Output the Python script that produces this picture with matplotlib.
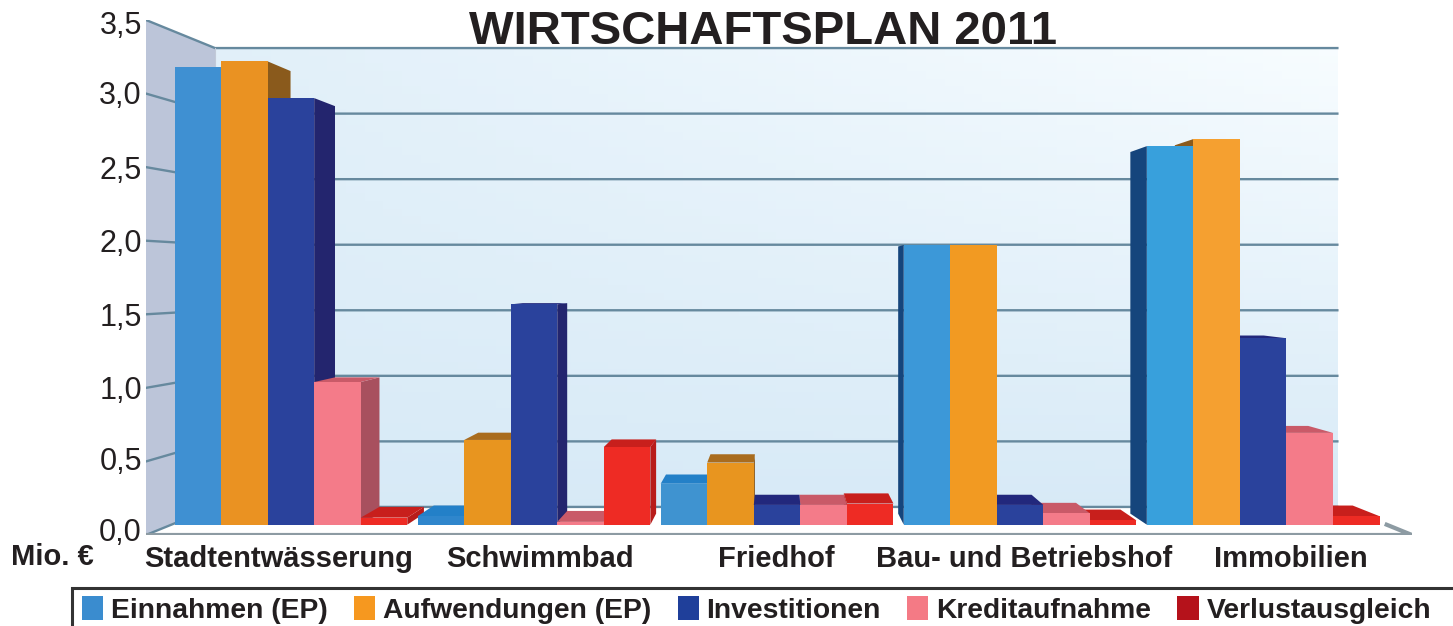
import numpy as np
import matplotlib
matplotlib.use('Agg')
import matplotlib.pyplot as plt
from matplotlib.patches import Patch, Rectangle

plt.rcParams['font.family'] = ['Liberation Sans', 'DejaVu Sans']

categories = ['Stadtentwässerung', 'Schwimmbad', 'Friedhof', 'Bau- und Betriebshof', 'Immobilien']
series = ['Einnahmen (EP)', 'Aufwendungen (EP)', 'Investitionen', 'Kreditaufnahme', 'Verlustausgleich']
einnahmen = [3.24, 0.06, 0.29, 1.98, 2.68]
aufwendungen = [3.28, 0.60, 0.44, 1.98, 2.73]
investitionen = [3.02, 1.56, 0.14, 0.14, 1.32]
kredit = [1.01, 0.02, 0.14, 0.08, 0.65]
verlust = [0.05, 0.55, 0.15, 0.03, 0.06]
grid_vals = [0, 0.5, 1, 1.5, 2, 2.5, 3, 3.5]
ytick_pos = [0.035, 0.52, 1.0, 1.5, 2.0, 2.5, 3.01, 3.48]
yticklabels = ['0,0', '0,5', '1,0', '1,5', '2,0', '2,5', '3,0', '3,5']
label_x = [0.025, 1.056, 1.99, 2.97, 4.02]

values = [einnahmen, aufwendungen, investitionen, kredit, verlust]
front_cols = ['#3f90d2', '#ec9422', '#2a429c', '#f47b89', '#ee2b24']
top_cols = ['#2380c8', '#a96c1e', '#22287c', '#c95a68', '#c81f1c']
side_cols = ['#15457c', '#8a5a1c', '#23256e', '#a8505e', '#b81c1a']
legend_cols = ['#3a8ccf', '#f6981f', '#1f3f9a', '#f47a85', '#b5121b']
# the print is a bit lighter toward the right
einn_front = ['#3f90d2', '#2f86cc', '#3f93d0', '#3c98d8', '#38a0dc']
aufw_front = ['#ea9222', '#e8951f', '#e8951f', '#f29a22', '#f5a030']

# depth of the planes, 1 = front edge of the floor
WALL = 0.891
FRONT = 0.96
BACK = 0.917
BAR_W = 0.1915
BAR_SHIFT = -0.008
WALL_END = 4.475
VP_X, VP_Y = 2.0, 1.75


def proj(x, v, s):
    return VP_X + (x - VP_X) * s, VP_Y + (v - VP_Y) * s


W, H = 1453, 626
fig = plt.figure(figsize=(W / 100, H / 100), dpi=100)
ax = fig.add_axes([146 / W, 1 - 535 / H, (1412 - 146) / W, 515 / H])
ax.patch.set_alpha(0)
for sp in ax.spines.values():
    sp.set_visible(False)

# back wall
xl, y0 = proj(-0.5, 0, WALL)
xr, y1 = proj(WALL_END, 3.5, WALL)
gx, gy = np.meshgrid(np.linspace(0, 1, 60), np.linspace(0, 1, 60))
t = np.clip(0.2 + 0.8 * gy * (0.3 + 0.7 * gx), 0, 1)
low = np.array([0.815, 0.90, 0.96])
high = np.array([0.97, 0.99, 1.0])
img = low[None, None, :] + (high - low)[None, None, :] * t[:, :, None]
ax.imshow(img, extent=[xl, xr, y0, y1], origin='lower', aspect='auto', zorder=0)

# left wall and floor
lw = [proj(-0.5, 0, 1), proj(-0.5, 3.5, 1), proj(-0.5, 3.5, WALL), proj(-0.5, 0, WALL)]
ax.fill(*zip(*lw), color='#bcc5d9', lw=0, zorder=0.2)
fl = [proj(-0.5, 0, 1), proj(4.5, 0, 1), proj(4.5, 0, WALL), proj(-0.5, 0, WALL)]
ax.fill(*zip(*fl), color='white', lw=0, zorder=0.3)

# grid lines, round the left wall and along the back
for v in grid_vals:
    px, py = zip(proj(-0.5, v, 1), proj(-0.5, v, WALL), proj(WALL_END, v, WALL))
    ax.plot(px, py, color='#66899e', lw=1.7, zorder=0.5, solid_joinstyle='miter')
px, py = zip(proj(-0.5, 3.5, WALL), proj(-0.5, 0, WALL))
ax.plot(px, py, color='#c2cad8', lw=0.8, zorder=0.5)
px, py = zip(proj(-0.5, 0, 1), proj(4.5, 0, 1), proj(4.5, 0, FRONT))
ax.plot(px, py, color='#8d9ba3', lw=3, zorder=0.6, solid_joinstyle='miter')

# bars, far from the middle first so the inner ones cover them
bars = []
for i in range(len(categories)):
    for j in range(len(series)):
        left = i + (j - 2.5) * BAR_W + BAR_SHIFT
        bars.append((abs(left + BAR_W / 2 - VP_X), i, j, left))
bars.sort(reverse=True)

for _, i, j, left in bars:
    v = values[j][i]
    right = left + BAR_W
    face = front_cols[j]
    if j == 0:
        face = einn_front[i]
    if j == 1:
        face = aufw_front[i]
    # side faces toward the middle
    edge = right if right < VP_X else left
    if right < VP_X or left > VP_X:
        pts = [proj(edge, 0, FRONT), proj(edge, v, FRONT), proj(edge, v, BACK), proj(edge, 0, BACK)]
        ax.fill(*zip(*pts), color=side_cols[j], lw=0)
    # top face, only seen below the horizon
    if v < VP_Y:
        pts = [proj(left, v, FRONT), proj(right, v, FRONT), proj(right, v, BACK), proj(left, v, BACK)]
        ax.fill(*zip(*pts), color=top_cols[j], lw=0)
    x0, b0 = proj(left, 0, FRONT)
    x1, b1 = proj(right, v, FRONT)
    ax.bar(x0, b1 - b0, x1 - x0, bottom=b0, align='edge', color=face, lw=0)

ax.set_xlim(-0.5, 4.5)
ax.set_ylim(0, 3.5)
ax.set_yticks(ytick_pos, yticklabels, fontsize=22, color='#231f20')
ax.set_xticks(label_x, categories, fontsize=21, fontweight='bold', color='#231f20')
ax.tick_params(length=0)
ax.tick_params(axis='y', pad=3)
ax.tick_params(axis='x', pad=7)

fig.text(763 / W, 1 - 32 / H, 'WIRTSCHAFTSPLAN 2011', fontsize=34, fontweight='bold',
         color='#231f20', ha='center', va='center')
fig.text(11 / W, 1 - 557 / H, 'Mio. €', fontsize=21, fontweight='bold', color='#231f20',
         ha='left', va='center')

# legend box runs off the right and bottom edge
fig.add_artist(Rectangle((72 / W, -0.05), 1.0, 1 - 588 / H + 0.05, transform=fig.transFigure,
                         fill=False, ec='#333333', lw=2.2))
handles = [Patch(color=c, lw=0) for c in legend_cols]
fig.legend(handles, series, ncol=5, frameon=False, loc='center left',
           bbox_to_anchor=(82 / W, 1 - 610 / H), borderpad=0, borderaxespad=0,
           prop={'size': 20.3, 'weight': 'bold'}, handlelength=0.75, handleheight=0.95,
           handletextpad=0.28, columnspacing=0.93, labelcolor='#231f20')

fig.savefig('out.png', dpi=100)
